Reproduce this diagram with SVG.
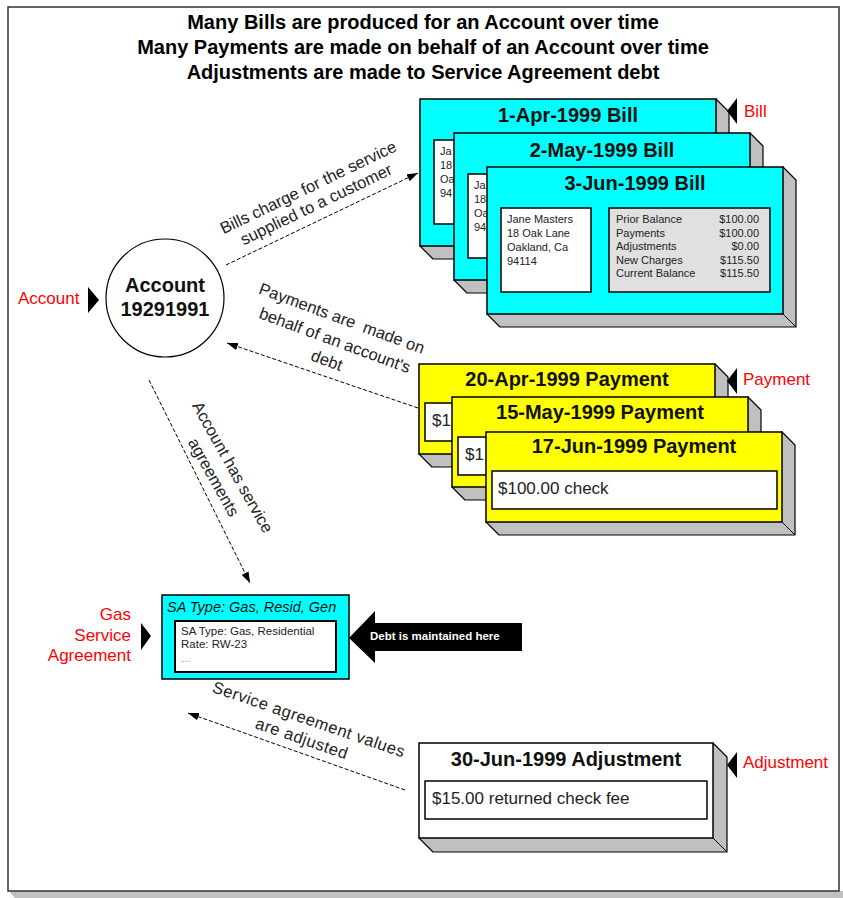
<svg xmlns="http://www.w3.org/2000/svg" width="843" height="898" viewBox="0 0 843 898">
<defs>
<style>
text{font-family:"Liberation Sans",Arial,sans-serif;}
.title{font-size:20px;font-weight:bold;fill:#000;text-anchor:middle;}
.hdr{font-size:20px;font-weight:bold;fill:#111;text-anchor:middle;}
.lbl{font-size:17px;fill:#ff0000;}
.rot{font-size:16.5px;fill:#222;text-anchor:middle;white-space:pre;}
.small{font-size:11px;fill:#222;}
.amt{font-size:11px;fill:#222;text-anchor:end;}
.body{font-size:17px;fill:#222;}
.face{stroke:#000;stroke-width:1.5;}
.shadow{fill:#c0c0c0;stroke:#000;stroke-width:1.2;stroke-linejoin:round;}
.inner{fill:#fff;stroke:#000;stroke-width:1.5;}
.conn{fill:none;stroke:#000;stroke-width:1;stroke-dasharray:4 2;marker-end:url(#ah);}
.tri{fill:#000;}
</style>
<marker id="ah" viewBox="0 0 10 7" refX="10" refY="3.5" markerWidth="11" markerHeight="8" markerUnits="userSpaceOnUse" orient="auto">
<path d="M0,0 L10,3.5 L0,7 z" fill="#000"/>
</marker>
</defs>

<g id="frame">
<polygon points="9,891 15,898 843,898 843,891" fill="#c0c0c0"/>
<rect x="8" y="7" width="831" height="884" fill="#fff" stroke="#333" stroke-width="1.5"/>
</g>

<g id="heading">
<text class="title" x="423" y="29">Many Bills are produced for an Account over time</text>
<text class="title" x="423" y="54">Many Payments are made on behalf of an Account over time</text>
<text class="title" x="423" y="79">Adjustments are made to Service Agreement debt</text>
</g>

<g id="connectors">
<line class="conn" x1="226" y1="265" x2="418" y2="173"/>
<line class="conn" x1="418" y1="408" x2="227" y2="343"/>
<line class="conn" x1="149" y1="380" x2="250" y2="583"/>
<line class="conn" x1="405" y1="790" x2="188" y2="713"/>
<text class="rot" transform="translate(308,187) rotate(-25.7)" y="6">Bills charge for the service</text>
<text class="rot" transform="translate(316,204) rotate(-25.7)" y="6">supplied to a customer</text>
<text class="rot" transform="translate(342,318) rotate(20.3)" y="6">Payments are  made on</text>
<text class="rot" transform="translate(335,340) rotate(20.3)" y="6">behalf of an account's</text>
<text class="rot" transform="translate(327,360) rotate(20.3)" y="6">debt</text>
<text class="rot" transform="translate(233,467) rotate(60.7)" y="6">Account has service</text>
<text class="rot" transform="translate(214,477) rotate(60.7)" y="6">agreements</text>
<text class="rot" transform="translate(309,719) rotate(19)" y="6" letter-spacing="0.5">Service agreement values</text>
<text class="rot" transform="translate(302,738) rotate(19)" y="6" letter-spacing="0.5">are adjusted</text>
</g>

<g id="account">
<circle cx="165" cy="298" r="59" fill="#fff" stroke="#000" stroke-width="1.2"/>
<text class="hdr" x="165" y="292" font-size="19">Account</text>
<text class="hdr" x="165" y="316" font-size="19">19291991</text>
</g>
<g id="account-label">
<text class="lbl" x="18" y="304">Account</text>
<polygon class="tri" points="88,287 99,300 88,313"/>
</g>

<g id="bill-1">
<polygon class="shadow" points="716,99 729,112 729,259 433,259 420,246"/>
<line x1="716" y1="246" x2="729" y2="259" stroke="#000"/>
<rect class="face" x="420" y="99" width="296" height="147" fill="#00ffff"/>
<text class="hdr" x="568" y="122">1-Apr-1999 Bill</text>
<rect class="inner" x="434" y="140" width="90" height="84"/>
<text class="small" x="440" y="155">Ja</text>
<text class="small" x="440" y="169">18</text>
<text class="small" x="440" y="183">Oa</text>
<text class="small" x="440" y="197">94</text>
</g>

<g id="bill-2">
<polygon class="shadow" points="750,133 763,146 763,293 467,293 454,280"/>
<line x1="750" y1="280" x2="763" y2="293" stroke="#000"/>
<rect class="face" x="454" y="133" width="296" height="147" fill="#00ffff"/>
<text class="hdr" x="602" y="157">2-May-1999 Bill</text>
<rect class="inner" x="468" y="174" width="90" height="84"/>
<text class="small" x="474" y="189">Ja</text>
<text class="small" x="474" y="203">18</text>
<text class="small" x="474" y="217">Oa</text>
<text class="small" x="474" y="231">94</text>
</g>

<g id="bill-3">
<polygon class="shadow" points="783,167 796,180 796,327 500,327 487,314"/>
<line x1="783" y1="314" x2="796" y2="327" stroke="#000"/>
<rect class="face" x="487" y="167" width="296" height="147" fill="#00ffff"/>
<text class="hdr" x="635" y="190">3-Jun-1999 Bill</text>
<rect class="inner" x="501" y="208" width="90" height="84"/>
<text class="small" x="507" y="223">Jane Masters</text>
<text class="small" x="507" y="237">18 Oak Lane</text>
<text class="small" x="507" y="251">Oakland, Ca</text>
<text class="small" x="507" y="265">94114</text>
<rect x="609" y="208" width="161" height="84" fill="#e0e0e0" stroke="#000" stroke-width="1.5"/>
<text class="small" x="616" y="223">Prior Balance</text>
<text class="small" x="616" y="237">Payments</text>
<text class="small" x="616" y="250">Adjustments</text>
<text class="small" x="616" y="264">New Charges</text>
<text class="small" x="616" y="277">Current Balance</text>
<text class="amt" x="759" y="223">$100.00</text>
<text class="amt" x="759" y="237">$100.00</text>
<text class="amt" x="759" y="250">$0.00</text>
<text class="amt" x="759" y="264">$115.50</text>
<text class="amt" x="759" y="277">$115.50</text>
</g>
<g id="bill-label">
<polygon class="tri" points="737,98 737,124 727,111"/>
<text class="lbl" x="744" y="117">Bill</text>
</g>

<g id="payment-1">
<polygon class="shadow" points="715,364 728,377 728,467 432,467 419,454"/>
<line x1="715" y1="454" x2="728" y2="467" stroke="#000"/>
<rect class="face" x="419" y="364" width="296" height="90" fill="#ffff00"/>
<text class="hdr" x="567" y="386">20-Apr-1999 Payment</text>
<rect class="inner" x="425" y="403" width="285" height="38"/>
<text class="body" x="432" y="426">$1</text>
</g>
<g id="payment-2">
<polygon class="shadow" points="748,397 761,410 761,500 465,500 452,487"/>
<line x1="748" y1="487" x2="761" y2="500" stroke="#000"/>
<rect class="face" x="452" y="397" width="296" height="90" fill="#ffff00"/>
<text class="hdr" x="600" y="419">15-May-1999 Payment</text>
<rect class="inner" x="458" y="437" width="285" height="38"/>
<text class="body" x="465" y="460">$1</text>
</g>
<g id="payment-3">
<polygon class="shadow" points="782,432 795,445 795,535 499,535 486,522"/>
<line x1="782" y1="522" x2="795" y2="535" stroke="#000"/>
<rect class="face" x="486" y="432" width="296" height="90" fill="#ffff00"/>
<text class="hdr" x="634" y="453">17-Jun-1999 Payment</text>
<rect class="inner" x="492" y="471" width="285" height="38"/>
<text class="body" x="498" y="494">$100.00 check</text>
</g>
<g id="payment-label">
<polygon class="tri" points="737,368 737,394 727,381"/>
<text class="lbl" x="743" y="385">Payment</text>
</g>

<g id="service-agreement">
<rect class="face" x="162" y="595" width="187" height="84" fill="#00ffff"/>
<text x="167" y="612" font-size="14.5" font-style="italic" fill="#111">SA Type: Gas, Resid, Gen</text>
<rect x="175" y="621" width="161" height="51" fill="#fff" stroke="#000" stroke-width="2"/>
<text x="181" y="635" font-size="11.5" fill="#222">SA Type: Gas, Residential</text>
<text x="181" y="648" font-size="11.5" fill="#222">Rate: RW-23</text>
<text x="181" y="662" font-size="11.5" fill="#999">...</text>
</g>
<g id="sa-label">
<text class="lbl" x="131" y="620" text-anchor="end">Gas</text>
<text class="lbl" x="131" y="641" text-anchor="end">Service</text>
<text class="lbl" x="131" y="661" text-anchor="end">Agreement</text>
<polygon class="tri" points="141,623 151,636 141,650"/>
</g>

<g id="debt-callout">
<polygon points="349,638 375,611 375,623 522,623 522,651 375,651 375,663" fill="#000"/>
<text x="370" y="640" font-size="11.5" font-weight="bold" fill="#fff">Debt is maintained here</text>
</g>

<g id="adjustment">
<polygon class="shadow" points="713,743 727,757 727,852 433,852 419,838"/>
<line x1="713" y1="838" x2="727" y2="852" stroke="#000"/>
<rect class="face" x="419" y="743" width="294" height="95" fill="#fff"/>
<text class="hdr" x="566" y="766">30-Jun-1999 Adjustment</text>
<rect class="inner" x="425" y="781" width="282" height="38"/>
<text class="body" x="432" y="804">$15.00 returned check fee</text>
</g>
<g id="adjustment-label">
<polygon class="tri" points="737,752 737,778 727,765"/>
<text class="lbl" x="743" y="768">Adjustment</text>
</g>
</svg>
